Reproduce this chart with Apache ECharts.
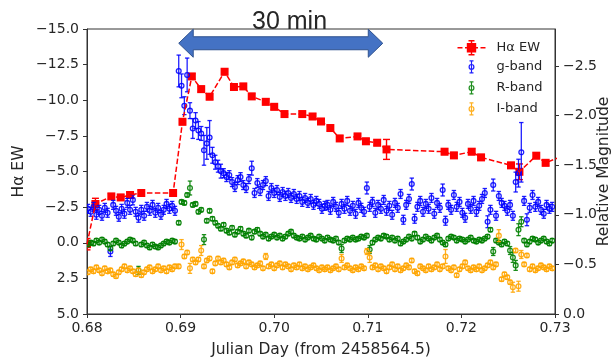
<!DOCTYPE html>
<html><head><meta charset="utf-8">
<script src="https://cdn.jsdelivr.net/npm/echarts@6/dist/echarts.min.js"></script>
<style>html,body{margin:0;padding:0;background:#fff}#c{width:616px;height:358px}</style>
</head><body><div id="c"></div>
<script>
// ---- Data ----
const bandTime = [
0.6801,0.6804,0.6807,0.6810,0.6813,0.6816,0.6819,0.6822,0.6825,0.6828,
0.6831,0.6834,0.6837,0.6840,0.6843,0.6846,0.6849,0.6852,0.6855,0.6858,
0.6861,0.6864,0.6867,0.6870,0.6873,0.6876,0.6879,0.6882,0.6885,0.6888,
0.6891,0.6894,
0.6898,0.6901,0.6904,0.6907,0.6910,0.6913,0.6916,0.6919,0.6922,0.6925,
0.6928,0.6931,0.6934,0.6937,0.6940,0.6943,0.6946,0.6949,0.6952,0.6955,
0.6958,0.6961,0.6964,0.6967,0.6970,0.6973,0.6976,0.6979,0.6982,0.6985,
0.6988,0.6991,0.6994,0.6997,0.7000,0.7003,0.7006,0.7009,0.7012,0.7015,
0.7018,0.7021,0.7024,0.7027,0.7030,0.7033,0.7036,0.7039,0.7042,0.7045,
0.7048,0.7051,0.7054,0.7057,0.7060,0.7063,0.7066,0.7069,0.7072,0.7075,
0.7078,0.7081,0.7084,0.7087,0.7090,0.7093,0.7096,0.7099,0.7102,0.7105,
0.7108,0.7111,0.7114,0.7117,0.7120,0.7123,0.7126,0.7129,0.7132,0.7135,
0.7138,0.7141,0.7144,0.7147,0.7150,0.7153,0.7156,0.7159,0.7162,0.7165,
0.7168,0.7171,0.7174,0.7177,0.7180,0.7183,0.7186,0.7189,0.7192,0.7195,
0.7198,0.7201,0.7204,0.7207,0.7210,0.7213,0.7216,0.7219,0.7222,0.7225,
0.7228,0.7231,0.7234,0.7237,0.7240,0.7243,0.7246,0.7249,0.7252,0.7255,
0.7258,0.7261,0.7264,0.7267,0.7270,0.7273,0.7276,0.7279,0.7282,0.7285,
0.7288,0.7291,0.7294,0.7297];

const gMag = [
-1.06,-1.03,-1.08,-1.00,-1.05,-0.99,-1.07,-1.02,-0.63,-1.10,
-1.04,-0.98,-1.06,-1.01,-1.12,-1.05,-1.15,-1.03,-0.97,-1.05,
-0.99,-1.08,-1.04,-1.10,-1.02,-1.07,-1.00,-1.05,-1.11,-1.06,
-1.09,-1.04,
-2.45,-2.30,-2.10,-2.41,-2.05,-1.87,-1.95,-1.85,-1.82,-1.65,
-1.72,-1.78,-1.60,-1.53,-1.49,-1.44,-1.42,-1.38,-1.40,-1.33,
-1.28,-1.35,-1.38,-1.30,-1.27,-1.36,-1.47,-1.22,-1.32,-1.24,
-1.30,-1.34,-1.19,-1.27,-1.22,-1.25,-1.18,-1.23,-1.19,-1.22,
-1.17,-1.21,-1.16,-1.19,-1.13,-1.17,-1.12,-1.16,-1.10,-1.14,
-1.11,-1.06,-1.09,-1.10,-1.05,-1.13,-1.08,-1.02,-1.11,-1.06,
-1.14,-1.04,-1.09,-1.01,-1.12,-1.07,-1.03,-1.27,-1.08,-1.13,
-1.02,-1.10,-1.06,-1.15,-1.04,-1.09,-1.00,-1.12,-1.07,-1.21,
-0.95,-1.10,-1.16,-1.31,-0.96,-1.08,-1.14,-1.03,-1.11,-1.06,
-1.17,-1.01,-1.12,-1.07,-1.25,-0.94,-1.10,-1.05,-1.20,-1.08,
-1.13,-1.02,-0.97,-1.11,-1.06,-1.14,-1.03,-1.09,-1.16,-1.22,
-0.93,-1.05,-1.30,-0.99,-1.19,-1.12,-1.09,-1.04,-1.10,-0.99,
-1.33,-1.42,-1.63,-1.14,-0.95,-1.07,-1.20,-1.08,-1.13,-1.05,
-1.01,-1.10,-1.06,-1.08];

const rMag = [
-0.70,-0.72,-0.71,-0.74,-0.72,-0.75,-0.73,-0.70,-0.66,-0.71,
-0.74,-0.72,-0.69,-0.71,-0.73,-0.75,-0.74,-0.71,-0.44,-0.70,
-0.72,-0.69,-0.67,-0.70,-0.68,-0.67,-0.69,-0.71,-0.73,-0.72,
-0.74,-0.73,
-0.92,-1.13,-1.12,-1.20,-1.27,-1.10,-1.11,-1.03,-1.05,-0.75,
-0.94,-1.04,-0.96,-0.92,-0.89,-0.86,-0.90,-0.84,-0.82,-0.87,
-0.80,-0.83,-0.86,-0.81,-0.79,-0.84,-0.77,-0.83,-0.85,-0.81,
-0.78,-0.80,-0.76,-0.78,-0.80,-0.77,-0.79,-0.76,-0.78,-0.81,
-0.83,-0.79,-0.77,-0.76,-0.78,-0.75,-0.77,-0.79,-0.76,-0.75,
-0.78,-0.76,-0.74,-0.77,-0.75,-0.74,-0.76,-0.72,-0.66,-0.74,
-0.76,-0.75,-0.77,-0.75,-0.76,-0.78,-0.77,-0.79,-0.65,-0.72,
-0.75,-0.77,-0.76,-0.79,-0.78,-0.75,-0.77,-0.74,-0.76,-0.71,
-0.73,-0.75,-0.78,-0.76,-0.81,-0.77,-0.73,-0.75,-0.78,-0.76,
-0.74,-0.77,-0.79,-0.75,-0.72,-0.70,-0.76,-0.78,-0.77,-0.74,
-0.76,-0.75,-0.73,-0.75,-0.77,-0.74,-0.73,-0.75,-0.74,-0.76,
-0.78,-0.85,-0.63,-0.74,-0.72,-0.70,-0.73,-0.71,-0.64,-0.57,
-0.49,-0.85,-0.93,-0.74,-0.70,-0.73,-0.76,-0.75,-0.72,-0.74,
-0.76,-0.73,-0.71,-0.74];

const iMag = [
-0.42,-0.45,-0.43,-0.47,-0.44,-0.41,-0.46,-0.43,-0.44,-0.40,
-0.38,-0.42,-0.45,-0.48,-0.44,-0.46,-0.43,-0.40,-0.44,-0.39,
-0.42,-0.45,-0.47,-0.43,-0.45,-0.48,-0.44,-0.46,-0.43,-0.47,
-0.45,-0.48,
-0.48,-0.70,-0.58,-0.62,-0.46,-0.55,-0.52,-0.55,-0.64,-0.48,
-0.54,-0.56,-0.43,-0.51,-0.56,-0.52,-0.54,-0.50,-0.47,-0.52,
-0.55,-0.49,-0.51,-0.53,-0.48,-0.52,-0.50,-0.47,-0.49,-0.51,
-0.46,-0.58,-0.48,-0.50,-0.46,-0.49,-0.51,-0.47,-0.50,-0.48,
-0.45,-0.49,-0.47,-0.50,-0.46,-0.48,-0.45,-0.47,-0.49,-0.46,
-0.44,-0.47,-0.45,-0.47,-0.44,-0.46,-0.48,-0.45,-0.56,-0.47,
-0.49,-0.46,-0.44,-0.47,-0.45,-0.48,-0.46,-0.63,-0.57,-0.47,
-0.49,-0.45,-0.48,-0.46,-0.43,-0.47,-0.50,-0.45,-0.48,-0.44,
-0.46,-0.49,-0.47,-0.54,-0.43,-0.41,-0.48,-0.46,-0.44,-0.48,
-0.45,-0.47,-0.50,-0.45,-0.48,-0.58,-0.46,-0.44,-0.47,-0.39,
-0.45,-0.48,-0.52,-0.46,-0.44,-0.47,-0.45,-0.48,-0.44,-0.46,
-0.49,-0.52,-0.47,-0.50,-0.79,-0.35,-0.40,-0.37,-0.32,-0.27,
-0.64,-0.28,-0.60,-0.50,-0.59,-0.45,-0.48,-0.44,-0.46,-0.49,
-0.47,-0.45,-0.48,-0.46];

// error bars: typical value per band, larger ones listed by point index
const gErrBase = 0.045;
const gErrBig = {8:0.05,16:0.05,32:0.16,33:0.12,34:0.09,35:0.17,36:0.08,37:0.10,38:0.08,39:0.09,40:0.07,41:0.15,42:0.16,43:0.17,44:0.08,45:0.07,46:0.06,47:0.07,58:0.07,99:0.06,115:0.06,126:0.06,142:0.06,144:0.06,152:0.10,153:0.14,154:0.30,156:0.06};
const rErrBase = 0.02;
const rErrBig = {18:0.04,36:0.07,41:0.05,90:0.04,100:0.04,144:0.04,150:0.04,151:0.05,152:0.05,153:0.06,154:0.05};
const iErrBase = 0.02;
const iErrBig = {33:0.05,36:0.05,40:0.05,63:0.03,90:0.04,99:0.03,100:0.05,127:0.07,146:0.06,151:0.05,153:0.05,154:0.04};

const haTime = [0.6800,0.6809,0.6826,0.6836,0.6846,0.6858,0.6892,0.6902,0.6912,0.6922,
0.6931,0.6947,0.6957,0.6967,0.6976,0.6991,0.7000,0.7011,0.7030,0.7041,
0.7050,0.7060,0.7070,0.7089,0.7098,0.7110,0.7120,0.7182,0.7192,0.7211,
0.7221,0.7253,0.7262,0.7280,0.7290,0.7305];
const haEW = [0.1,-2.72,-3.25,-3.18,-3.35,-3.49,-3.49,-8.49,-11.67,-10.78,
-10.25,-12.0,-10.93,-10.97,-10.27,-9.89,-9.54,-9.03,-9.03,-8.86,
-8.51,-8.05,-7.32,-7.46,-7.12,-7.02,-6.55,-6.39,-6.13,-6.39,
-5.99,-5.43,-4.98,-6.11,-5.61,-6.0];
const haErr = [0.4,0.4,0.2,0.2,0.2,0.2,0.2,0.2,0.2,0.2,
0.2,0.2,0.2,0.2,0.2,0.2,0.2,0.2,0.2,0.2,
0.2,0.2,0.2,0.2,0.2,0.2,0.7,0.2,0.2,0.2,
0.2,0.2,0.55,0.2,0.2,0.2];

const magTicks = [-2.5,-2.0,-1.5,-1.0,-0.5,0.0];
const arrowTime = [0.6898, 0.7116];
const arrowEW = -14.0;
const arrowLabel = '30 min';

// ---- Build ----
const FONT = 'DejaVu Sans';
const TXT = '#262626';
function bandData(mags, base, big){ return bandTime.map((t,i)=>[t, mags[i], big[i]!==undefined?big[i]:base]); }
function minusFmt(d){ return v => (v<0?'\u2212':'') + Math.abs(v).toFixed(d); }

function errRender(color, kind){
  return function(params, api){
    const x = api.value(0), y = api.value(1), e = api.value(2);
    const p = api.coord([x,y]), a = api.coord([x,y-e]), b = api.coord([x,y+e]);
    const lw = kind==='square'?1.4:1.3, cw = kind==='square'?3.5:2.2;
    const op = kind==='square'?1:0.88;
    const st = {stroke:color, lineWidth:lw, opacity:op};
    const ch = [
      {type:'line', shape:{x1:p[0],y1:a[1],x2:p[0],y2:b[1]}, style:st},
      {type:'line', shape:{x1:p[0]-cw,y1:a[1],x2:p[0]+cw,y2:a[1]}, style:st},
      {type:'line', shape:{x1:p[0]-cw,y1:b[1],x2:p[0]+cw,y2:b[1]}, style:st}
    ];
    if (kind==='square') ch.push({type:'rect', shape:{x:p[0]-4,y:p[1]-4,width:8,height:8}, style:{fill:color}});
    else ch.push({type:'circle', shape:{cx:p[0],cy:p[1],r:2.4}, style:{fill:'none', stroke:color, lineWidth:1.3, opacity:op}});
    return {type:'group', children:ch};
  };
}
function bandSeries(name, color, mags, base, big){
  return {name, type:'custom', xAxisIndex:0, yAxisIndex:1, clip:true,
    renderItem: errRender(color,'circle'), itemStyle:{color},
    encode:{x:0,y:1}, data: bandData(mags, base, big), silent:true};
}

const haIcon = 'path://M0 0M34 16M0 8L5 8M7.5 8L10 8M18 8L20.5 8M23 8L28 8M10 4L18 4L18 12L10 12ZM14 1L14 15M11 1L17 1M11 15L17 15';
const bandIcon = 'path://M0 0M34 16M14 2L14 14M12 2L16 2M12 14L16 14M16.4 8A2.4 2.4 0 1 0 11.6 8A2.4 2.4 0 1 0 16.4 8Z';

const chart = echarts.init(document.getElementById('c'), null, {renderer:'canvas'});
chart.setOption({
  animation:false,
  backgroundColor:'#fff',
  title:{text:arrowLabel, left:252, top:10, padding:0,
    textStyle:{fontFamily:'Liberation Sans', fontSize:25, fontWeight:'normal', color:TXT}},
  grid:{left:87, right:61, top:29, bottom:44, outerBoundsMode:'none', containLabel:false,
    show:true, borderColor:'#333', borderWidth:1, backgroundColor:'transparent'},
  legend:{orient:'vertical', left:455, top:39, padding:0, itemGap:0, itemWidth:34, itemHeight:16,
    selectedMode:false, textStyle:{fontFamily:FONT, fontSize:13, lineHeight:15, color:TXT},
    data:[
      {name:'Hα EW', icon:haIcon, itemStyle:{color:'#ff0000', borderColor:'#ff0000', borderWidth:1.4}},
      {name:'g-band', icon:bandIcon, itemStyle:{color:'none', borderColor:'#0000ff', borderWidth:1.2, opacity:0.88}},
      {name:'R-band', icon:bandIcon, itemStyle:{color:'none', borderColor:'#008000', borderWidth:1.2, opacity:0.88}},
      {name:'I-band', icon:bandIcon, itemStyle:{color:'none', borderColor:'#ffa500', borderWidth:1.2, opacity:0.88}}
    ]},
  xAxis:{type:'value', min:0.68, max:0.73, interval:0.01,
    name:'Julian Day (from 2458564.5)', nameLocation:'middle', nameGap:28, nameMoveOverlap:false,
    nameTextStyle:{fontFamily:FONT, fontSize:15.5, color:TXT},
    axisLine:{onZero:false, lineStyle:{color:'#333', width:1}}, axisTick:{length:4, lineStyle:{color:'#333'}},
    axisLabel:{fontFamily:FONT, fontSize:14, color:TXT, margin:7, formatter:v=>v.toFixed(2)},
    splitLine:{show:false}},
  yAxis:[
    {type:'value', min:-15, max:5, interval:2.5, inverse:true, position:'left',
     name:'Hα EW', nameLocation:'middle', nameRotate:90, nameGap:60, nameMoveOverlap:false,
     nameTextStyle:{fontFamily:FONT, fontSize:15.5, color:TXT},
     axisLine:{show:true, onZero:false, lineStyle:{color:'#333', width:1}}, axisTick:{show:true, length:4, lineStyle:{color:'#333'}},
     axisLabel:{fontFamily:FONT, fontSize:14, color:TXT, margin:8, formatter:minusFmt(1)},
     splitLine:{show:false}},
    {type:'value', min:-2.873, max:0, inverse:true, position:'right',
     name:'Relative Magnitude', nameLocation:'middle', nameRotate:90, nameGap:41, nameMoveOverlap:false,
     nameTextStyle:{fontFamily:FONT, fontSize:15.5, color:TXT},
     axisLine:{show:true, onZero:false, lineStyle:{color:'#333', width:1}},
     axisTick:{show:true, length:4, lineStyle:{color:'#333'}, customValues:magTicks},
     axisLabel:{fontFamily:FONT, fontSize:14, color:TXT, margin:8, customValues:magTicks, formatter:minusFmt(1)},
     splitLine:{show:false}}
  ],
  series:[
    {name:'Hα EW', type:'line', xAxisIndex:0, yAxisIndex:0, symbol:'none', clip:true, silent:true,
     lineStyle:{color:'#ff0000', width:1.5, type:[5.5,2.4]}, itemStyle:{color:'#ff0000'},
     data: haTime.map((t,i)=>[t, haEW[i]])},
    {name:'Hα EW', type:'custom', xAxisIndex:0, yAxisIndex:0, clip:true, silent:true,
     renderItem: errRender('#ff0000','square'), itemStyle:{color:'#ff0000'}, encode:{x:0,y:1},
     data: haTime.map((t,i)=>[t, haEW[i], haErr[i]])},
    bandSeries('g-band', '#0000ff', gMag, gErrBase, gErrBig),
    bandSeries('R-band', '#008000', rMag, rErrBase, rErrBig),
    bandSeries('I-band', '#ffa500', iMag, iErrBase, iErrBig),
    {name:'arrow', type:'custom', xAxisIndex:0, yAxisIndex:0, clip:false, silent:true, z:10,
     data:[[arrowTime[0], arrowEW]], encode:{x:0,y:1},
     renderItem:(params, api)=>{
       const a = api.coord([arrowTime[0], arrowEW]), b = api.coord([arrowTime[1], arrowEW]);
       const y = a[1], hl = 14.5, hh = 14, sh = 6.5;
       const pts = [[a[0],y],[a[0]+hl,y-hh],[a[0]+hl,y-sh],[b[0]-hl,y-sh],[b[0]-hl,y-hh],[b[0],y],
                    [b[0]-hl,y+hh],[b[0]-hl,y+sh],[a[0]+hl,y+sh],[a[0]+hl,y+hh]];
       return {type:'polygon', shape:{points:pts}, style:{fill:'#4472C4', stroke:'#2F528F', lineWidth:1}};
     }}
  ]
});
</script></body></html>
